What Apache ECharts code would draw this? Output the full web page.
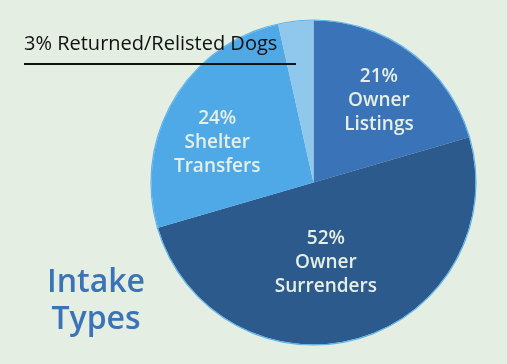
<!DOCTYPE html>
<html>
<head>
<meta charset="utf-8">
<script src="https://cdn.jsdelivr.net/npm/echarts@6/dist/echarts.min.js"></script>
<style>
html,body{margin:0;padding:0;background:#e4eee2;}
#c{width:507px;height:364px;}
</style>
</head>
<body>
<div id="c"></div>
<script>
// Data
var categories = ['Owner Listings', 'Owner Surrenders', 'Shelter Transfers', 'Returned/Relisted Dogs'];
var labelLines = [['Owner', 'Listings'], ['Owner', 'Surrenders'], ['Shelter', 'Transfers'], ['Returned/Relisted Dogs']];
var percentLabels = ['21%', '52%', '24%', '3%'];
var sliceValues = [20.5, 50, 26, 3.5]; // slice sizes as drawn
var titleText = 'Intake\nTypes';

// Styles
var colors = ['#3a73b7', '#2c5a8c', '#4ea9e6', '#90c7ed'];
var labelOffsets = [[15, -15], [-11, -1], [-24, 3], [0, 0]];
var cx = 313.5, cy = 182.5, R = 162;

var chart = echarts.init(document.getElementById('c'), null, {renderer: 'canvas'});
var data = categories.map(function (c, i) {
  return {
    name: c,
    value: sliceValues[i],
    itemStyle: {color: colors[i]},
    label: {show: i < 3}
  };
});

chart.setOption({
  backgroundColor: '#e4eee2',
  animation: false,
  title: {
    text: titleText,
    left: 91, top: 259,
    textAlign: 'center',
    textStyle: {fontFamily: 'Open Sans', fontSize: 32, fontWeight: 600, color: '#3a73b7', lineHeight: 37}
  },
  series: [{
    type: 'pie',
    center: [cx, cy],
    radius: [0, R],
    startAngle: 90,
    clockwise: true,
    data: data,
    itemStyle: {borderWidth: 0},
    label: {
      position: 'inner',
      formatter: function (p) {
        return [percentLabels[p.dataIndex]].concat(labelLines[p.dataIndex]).join('\n');
      },
      fontFamily: 'Open Sans',
      fontSize: 19,
      fontWeight: 600,
      lineHeight: 24,
      color: '#e6efe4',
      align: 'center'
    },
    labelLine: {show: false},
    labelLayout: function (p) {
      var o = labelOffsets[p.dataIndex];
      return {dx: o[0], dy: o[1]};
    },
    emphasis: {disabled: true}
  }],
  graphic: [
    {type: 'circle', shape: {cx: cx, cy: cy, r: R + 0.5}, style: {fill: 'none', stroke: '#5db3ec', lineWidth: 1.2}, silent: true, z: 10},
    {type: 'text', left: 24, top: 34, style: {text: percentLabels[3] + ' ' + labelLines[3][0], font: '400 20px "Open Sans"', fill: '#111111'}, z: 20},
    {type: 'line', shape: {x1: 24, y1: 64, x2: 296, y2: 64}, style: {stroke: '#111111', lineWidth: 2}, z: 20}
  ]
});
</script>
</body>
</html>
